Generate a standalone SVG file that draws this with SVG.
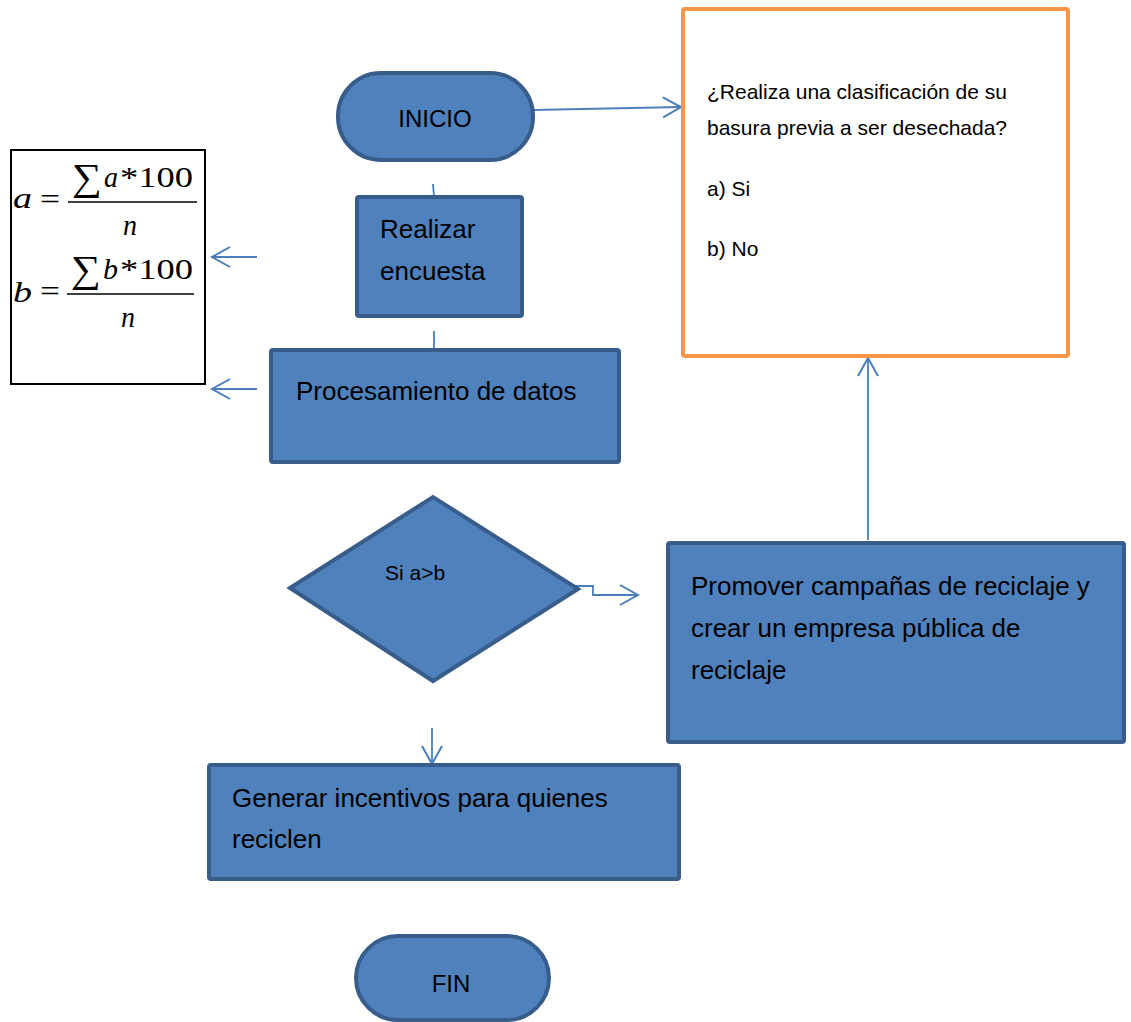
<svg xmlns="http://www.w3.org/2000/svg" width="1131" height="1022" viewBox="0 0 1131 1022">
<defs>
<style>
.node{fill:#4F81BD;stroke:#385D8A;stroke-width:4}
.t{font-family:"Liberation Sans",Arial,sans-serif;fill:#000}
.big{font-size:26px}
.q{font-size:21px}
.m{font-family:"Liberation Serif","Times New Roman",serif;fill:#000;font-size:30px}
.sum{font-size:38px}
.mi{font-style:italic}
.c{fill:none;stroke:#4A7EBB;stroke-width:1.8}
</style>
<marker id="arr" markerUnits="userSpaceOnUse" markerWidth="24" markerHeight="24" refX="19" refY="12" orient="auto" overflow="visible">
<path d="M1,2 L19,12 L1,22" fill="none" stroke="#4A7EBB" stroke-width="2"/>
</marker>
</defs>
<rect width="1131" height="1022" fill="#fff"/>

<g id="connectors">
<path class="c" d="M533,110 L681,107" marker-end="url(#arr)"/>
<path class="c" d="M433,184 L434,197"/>
<path class="c" d="M434,331 L434,350"/>
<path class="c" d="M257,257 L212,257" marker-end="url(#arr)"/>
<path class="c" d="M257,389 L212,389" marker-end="url(#arr)"/>
<path class="c" d="M547,586 L593,586 L593,595 L638,595" marker-end="url(#arr)"/>
<path class="c" d="M868,540 L868,358" marker-end="url(#arr)"/>
<path class="c" d="M432,728 L432,764" marker-end="url(#arr)"/>
</g>

<g id="inicio">
<rect class="node" x="338" y="73" width="195" height="87" rx="43" ry="43"/>
<text class="t" x="435" y="127" font-size="24" text-anchor="middle">INICIO</text>
</g>

<g id="pregunta">
<rect x="683" y="9" width="385" height="347" fill="#fff" stroke="#F79646" stroke-width="4" rx="2"/>
<text class="t q" x="707" y="99">¿Realiza una clasificación de su</text>
<text class="t q" x="707" y="135">basura previa a ser desechada?</text>
<text class="t q" x="707" y="196">a) Si</text>
<text class="t q" x="707" y="256">b) No</text>
</g>

<g id="formula">
<rect x="11" y="150" width="194" height="234" fill="#fff" stroke="#000" stroke-width="2"/>
<text class="m mi" x="13" y="208" textLength="19" lengthAdjust="spacingAndGlyphs">a</text>
<text class="m" x="40" y="209" textLength="20" lengthAdjust="spacingAndGlyphs">=</text>
<text class="m sum" x="72" y="190" textLength="30" lengthAdjust="spacingAndGlyphs">∑</text>
<text class="m mi" x="104" y="187" textLength="14" lengthAdjust="spacingAndGlyphs">a</text>
<text class="m" x="120" y="187" textLength="73" lengthAdjust="spacingAndGlyphs">*100</text>
<line x1="68" y1="202" x2="197" y2="202" stroke="#000" stroke-width="1.5"/>
<text class="m mi" x="123" y="235" textLength="14" lengthAdjust="spacingAndGlyphs">n</text>

<text class="m mi" x="13" y="302" textLength="19" lengthAdjust="spacingAndGlyphs">b</text>
<text class="m" x="40" y="301" textLength="20" lengthAdjust="spacingAndGlyphs">=</text>
<text class="m sum" x="71" y="282" textLength="30" lengthAdjust="spacingAndGlyphs">∑</text>
<text class="m mi" x="103" y="279" textLength="15" lengthAdjust="spacingAndGlyphs">b</text>
<text class="m" x="120" y="279" textLength="73" lengthAdjust="spacingAndGlyphs">*100</text>
<line x1="67" y1="294" x2="194" y2="294" stroke="#000" stroke-width="1.5"/>
<text class="m mi" x="121" y="327" textLength="14" lengthAdjust="spacingAndGlyphs">n</text>
</g>

<g id="encuesta">
<rect class="node" x="357" y="197" width="165" height="119" rx="2"/>
<text class="t big" x="380" y="238">Realizar</text>
<text class="t big" x="380" y="280">encuesta</text>
</g>

<g id="procesamiento">
<rect class="node" x="271" y="350" width="348" height="112" rx="2"/>
<text class="t big" x="296" y="400">Procesamiento de datos</text>
</g>

<g id="decision">
<polygon class="node" points="290,588 433,497 578,589 433,681"/>
<text class="t" x="385" y="580" font-size="21">Si a&gt;b</text>
</g>

<g id="promover">
<rect class="node" x="668" y="543" width="456" height="199" rx="2"/>
<text class="t big" x="691" y="595">Promover campañas de reciclaje y</text>
<text class="t big" x="691" y="637">crear un empresa pública de</text>
<text class="t big" x="691" y="679">reciclaje</text>
</g>

<g id="incentivos">
<rect class="node" x="209" y="765" width="470" height="114" rx="2"/>
<text class="t big" x="232" y="807">Generar incentivos para quienes</text>
<text class="t big" x="232" y="848">reciclen</text>
</g>

<g id="fin">
<rect class="node" x="356" y="936" width="193" height="84" rx="42" ry="42"/>
<text class="t" x="451" y="992" font-size="24" text-anchor="middle">FIN</text>
</g>
</svg>
